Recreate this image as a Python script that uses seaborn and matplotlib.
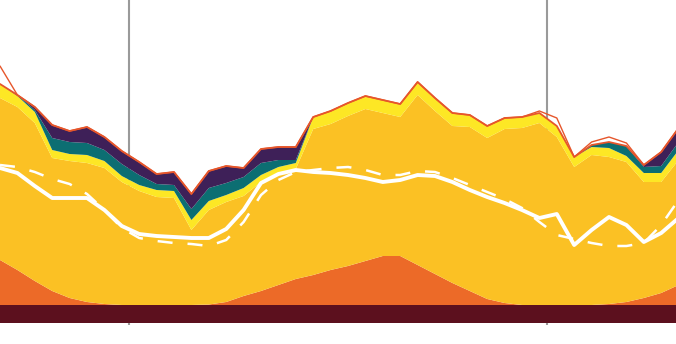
import numpy as np
import pandas as pd
import matplotlib
matplotlib.use("Agg")
import matplotlib.pyplot as plt
import seaborn as sns

# ---- data (stack layer thicknesses, bottom to top) ----
period = list(range(40))
base_band = [18] * 40
orange = [45, 35, 24, 14, 7, 3, 1, 0, 0, 0, 0, 0, 0.5, 3, 9, 14, 20, 26, 30, 35,
          39, 44, 49, 49, 40, 31, 22, 14, 6, 2, 0, 0, 0, 0, 0, 1, 3, 7, 12, 20]
main_yellow = [162, 163, 158, 133, 137, 139, 136, 123, 114, 108, 107, 75, 94.5, 100, 100,
               109, 112, 110, 146, 146, 150, 152, 143, 139, 170, 163, 157, 164, 161, 174,
               177, 182, 168, 138, 150, 147, 140, 116, 111, 125]
bright_yellow = [14, 11, 11, 8, 7, 8, 7, 6, 6, 7, 7, 10, 9, 7, 8, 7, 6, 6, 12, 13,
                 13, 13, 13, 13, 13, 13, 13, 12, 12, 11, 11, 10, 11, 10, 8, 9, 6, 9, 9, 10]
teal = [0, 1, 2, 12, 12, 12, 11, 12, 10, 6, 6, 11, 13, 12, 11, 12, 7, 3, 0, 0,
        0, 0, 0, 0, 0, 0, 0, 0, 0, 0, 0, 0, 0, 0, 2, 6, 10, 6, 7, 8]
purple = [0, 0, 3, 13, 11, 16, 13, 13, 13, 10, 13, 15, 17, 17, 9, 14, 13, 13, 0, 0,
          0, 0, 0, 0, 0, 0, 0, 0, 0, 0, 0, 0, 0, 0, 0, 0, 0, 2, 14, 14]
alt_extra = [18, 0, 0, 0, 0, 0, 0, 0, 0, 0, 0, 0, 0, 0, 0, 0, 0, 0, 0, 0,
             0, 0, 0, 0, 0, 0, 0, 0, 0, 0, 0, 2, 8, 0, 3, 5, 3, 0, 0, 0]
solid_line = [155, 150, 137, 125, 125, 125, 113, 97, 89, 87, 86, 85, 85, 94, 113, 140,
              149, 153, 151, 150, 148, 145, 141, 143, 148, 147, 141, 133, 126, 120, 113,
              105, 109, 78, 93, 106, 98, 81, 90, 105]
dashed_line = [158, 156, 151, 144, 139, 129, 113, 95, 85, 82, 80, 79, 77, 83, 101, 128,
               143, 151, 153, 155, 156, 153, 148, 148, 152, 151, 145, 138, 131, 124, 115,
               101, 88, 84, 80, 77, 77, 80, 98, 123]
markers_x = [7.41, 31.44]

colors = ["#5C101E", "#EC6A28", "#FBC124", "#FDE725", "#0C6E72", "#3E2058"]

sns.set_theme(style="white")
fig = plt.figure(figsize=(6.76, 3.44), dpi=100)
ax = fig.add_axes([0, 0, 1, 1])

ax.vlines(markers_x, -2, 323, color="#9a9a9a", lw=1.5, zorder=0)

layers = [base_band, orange, main_yellow, bright_yellow, teal, purple]
ax.stackplot(period, *layers, colors=colors, zorder=1, linewidth=0)

total = np.sum(np.array(layers, dtype=float), axis=0)
df = pd.DataFrame({"period": period, "total": total,
                   "alt": total + np.array(alt_extra),
                   "solid": solid_line, "dashed": dashed_line})

sns.lineplot(data=df, x="period", y="alt", color="#E6562B", lw=1.0, ax=ax, zorder=3)
sns.lineplot(data=df, x="period", y="total", color="#E6562B", lw=1.3, ax=ax, zorder=3)
sns.lineplot(data=df, x="period", y="solid", color="white", lw=2.8, ax=ax, zorder=4)
sns.lineplot(data=df, x="period", y="dashed", color="white", lw=1.8, ax=ax, zorder=4)
ax.lines[-1].set_dashes((6, 6))

ax.set_xlim(0, 676 / 17.4)
ax.set_ylim(-21, 323)
ax.axis("off")
fig.savefig("out.png", dpi=100)
